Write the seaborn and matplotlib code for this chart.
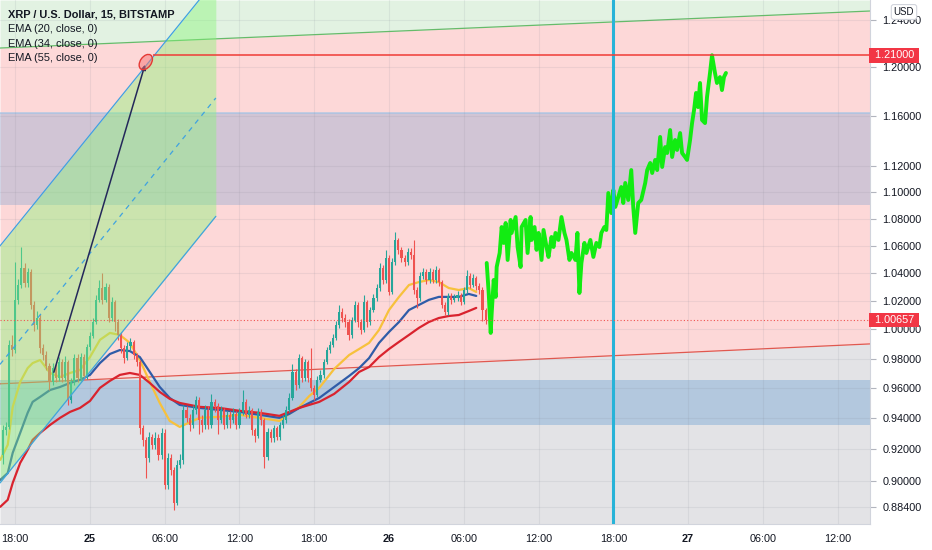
import matplotlib
matplotlib.use('Agg')
import matplotlib.pyplot as plt
import matplotlib.transforms as mtransforms
from matplotlib.patches import Ellipse
from matplotlib.ticker import FixedLocator, NullLocator, NullFormatter
import seaborn as sns
import numpy as np
import pandas as pd

# 15 minute candles, time in hours counted from the 25th 00:00
first_hour = -7.0
first_open = 0.9165
closes = [
    0.9325, 0.9345, 0.9893, 0.9858, 1.0208, 1.0314, 1.0437, 1.0328, 1.0408, 1.0172,
    1.0031, 1.0080, 0.9872, 0.9824, 0.9749, 0.9642, 0.9735, 0.9669, 0.9776, 0.9669,
    0.9776, 0.9522, 0.9642, 0.9803, 0.9669, 0.9810, 0.9682, 0.9879, 0.9955, 1.0052,
    1.0208, 1.0292, 1.0208, 1.0299, 1.0080, 1.0194, 1.0052, 0.9962, 0.9872, 0.9803,
    0.9886, 0.9914, 0.9824, 0.9776, 0.9338, 0.9261, 0.9146, 0.9280, 0.9229, 0.9274,
    0.9165, 0.9306, 0.8975, 0.9146, 0.9069, 0.8865, 0.9101, 0.9133, 0.9456, 0.9404,
    0.9358, 0.9456, 0.9522, 0.9391, 0.9358, 0.9456, 0.9358, 0.9509, 0.9482, 0.9391,
    0.9456, 0.9358, 0.9424, 0.9391, 0.9430, 0.9358, 0.9443, 0.9509, 0.9424, 0.9456,
    0.9325, 0.9286, 0.9443, 0.9391, 0.9152, 0.9312, 0.9274, 0.9338, 0.9280, 0.9358,
    0.9391, 0.9456, 0.9535, 0.9709, 0.9622, 0.9803, 0.9669, 0.9776, 0.9669, 0.9602,
    0.9555, 0.9656, 0.9689, 0.9776, 0.9858, 0.9893, 0.9942, 1.0031, 1.0122, 1.0080,
    1.0052, 0.9962, 1.0066, 1.0172, 1.0052, 0.9997, 1.0194, 1.0052, 1.0136, 1.0222,
    1.0292, 1.0437, 1.0350, 1.0510, 1.0264, 1.0480, 1.0642, 1.0569, 1.0510, 1.0480,
    1.0554, 1.0532, 1.0278, 1.0222, 1.0379, 1.0408, 1.0350, 1.0408, 1.0350, 1.0422,
    1.0335, 1.0172, 1.0122, 1.0236, 1.0208, 1.0222, 1.0243, 1.0194, 1.0278, 1.0379,
    1.0314, 1.0364, 1.0306, 1.0278, 1.0136, 1.0066,
]
highs = [
    0.9360, 0.9380, 0.9930, 0.9960, 1.0480, 1.0360, 1.0590, 1.0470, 1.0440, 1.0430,
    1.0200, 1.0130, 1.0110, 0.9900, 0.9850, 0.9770, 0.9770, 0.9760, 0.9810, 0.9800,
    0.9820, 0.9790, 0.9670, 0.9830, 0.9830, 0.9840, 0.9830, 0.9900, 0.9980, 1.0080,
    1.0240, 1.0350, 1.0400, 1.0330, 1.0320, 1.0230, 1.0210, 1.0070, 0.9980, 0.9890,
    0.9910, 0.9940, 0.9930, 0.9840, 0.9790, 0.9360, 0.9280, 0.9310, 0.9300, 0.9310,
    0.9300, 0.9340, 0.9330, 0.9180, 0.9170, 0.9090, 0.9130, 0.9170, 0.9490, 0.9480,
    0.9430, 0.9490, 0.9550, 0.9540, 0.9420, 0.9490, 0.9480, 0.9560, 0.9530, 0.9500,
    0.9480, 0.9470, 0.9450, 0.9450, 0.9470, 0.9450, 0.9470, 0.9590, 0.9530, 0.9480,
    0.9470, 0.9340, 0.9470, 0.9460, 0.9400, 0.9340, 0.9330, 0.9360, 0.9350, 0.9380,
    0.9420, 0.9480, 0.9570, 0.9760, 0.9730, 0.9830, 0.9820, 0.9800, 0.9790, 0.9870,
    0.9620, 0.9680, 0.9720, 0.9800, 0.9880, 0.9920, 0.9970, 1.0060, 1.0170, 1.0150,
    1.0110, 1.0070, 1.0090, 1.0200, 1.0190, 1.0070, 1.0240, 1.0210, 1.0160, 1.0250,
    1.0320, 1.0470, 1.0460, 1.0570, 1.0530, 1.0510, 1.0700, 1.0660, 1.0590, 1.0530,
    1.0580, 1.0580, 1.0640, 1.0300, 1.0410, 1.0440, 1.0430, 1.0440, 1.0430, 1.0450,
    1.0440, 1.0350, 1.0190, 1.0260, 1.0260, 1.0250, 1.0270, 1.0260, 1.0300, 1.0420,
    1.0400, 1.0390, 1.0380, 1.0330, 1.0300, 1.0150,
]
lows = [
    0.9110, 0.9290, 0.9330, 0.9820, 0.9840, 1.0180, 1.0290, 1.0300, 1.0300, 1.0140,
    0.9990, 1.0000, 0.9840, 0.9790, 0.9720, 0.9590, 0.9620, 0.9640, 0.9650, 0.9640,
    0.9650, 0.9490, 0.9500, 0.9620, 0.9640, 0.9650, 0.9660, 0.9660, 0.9860, 0.9940,
    1.0040, 1.0190, 1.0180, 1.0190, 1.0050, 1.0060, 0.9990, 0.9930, 0.9840, 0.9770,
    0.9790, 0.9860, 0.9800, 0.9750, 0.9300, 0.9220, 0.9020, 0.9120, 0.9200, 0.9200,
    0.9130, 0.9140, 0.8950, 0.8950, 0.9040, 0.8822, 0.8850, 0.9080, 0.9110, 0.9380,
    0.9320, 0.9340, 0.9430, 0.9300, 0.9310, 0.9330, 0.9330, 0.9340, 0.9440, 0.9300,
    0.9370, 0.9330, 0.9340, 0.9340, 0.9370, 0.9330, 0.9340, 0.9420, 0.9400, 0.9400,
    0.9290, 0.9250, 0.9270, 0.9360, 0.9080, 0.9130, 0.9250, 0.9250, 0.9260, 0.9260,
    0.9340, 0.9370, 0.9440, 0.9520, 0.9590, 0.9600, 0.9640, 0.9650, 0.9640, 0.9580,
    0.9520, 0.9540, 0.9640, 0.9670, 0.9760, 0.9840, 0.9880, 0.9930, 1.0010, 1.0050,
    1.0020, 0.9930, 0.9940, 1.0050, 1.0020, 0.9970, 0.9980, 1.0020, 1.0030, 1.0120,
    1.0200, 1.0270, 1.0320, 1.0330, 1.0240, 1.0250, 1.0460, 1.0540, 1.0480, 1.0450,
    1.0460, 1.0500, 1.0250, 1.0150, 1.0200, 1.0360, 1.0320, 1.0330, 1.0330, 1.0330,
    1.0310, 1.0150, 1.0100, 1.0100, 1.0180, 1.0190, 1.0200, 1.0170, 1.0180, 1.0260,
    1.0290, 1.0300, 1.0280, 1.0250, 1.0060, 1.0040,
]

# EMA lines
ema_hours = [-7.2, -6.6, -6.2, -5.6, -5.0, -4.6, -4.0, -3.2, -2.4, -1.6,
             -0.8, 0.0, 0.8, 1.6, 2.4, 3.2, 4.0, 4.8, 5.6, 6.4,
             7.2, 8.8, 10.4, 12.0, 13.6, 15.2, 16.0, 16.8, 17.6, 18.4,
             19.6, 20.8, 21.6, 22.4, 23.2, 24.0, 24.8, 25.6, 26.4, 27.2,
             28.0, 28.8, 29.6, 30.4, 31.0]
ema20 = [0.9133, 0.9229, 0.9476, 0.9642, 0.9735, 0.9769, 0.9790, 0.9702, 0.9675, 0.9702,
         0.9722, 0.9810, 0.9928, 0.9976, 0.9962, 0.9907, 0.9790, 0.9642, 0.9502, 0.9384,
         0.9345, 0.9404, 0.9411, 0.9424, 0.9404, 0.9384, 0.9430, 0.9476, 0.9548, 0.9602,
         0.9729, 0.9824, 0.9865, 0.9907, 0.9997, 1.0136, 1.0229, 1.0314, 1.0335, 1.0350,
         1.0335, 1.0292, 1.0278, 1.0292, 1.0264]
ema34 = [0.9007, 0.9050, 0.9178, 0.9306, 0.9437, 0.9509, 0.9542, 0.9588, 0.9608, 0.9635,
         0.9656, 0.9689, 0.9769, 0.9831, 0.9858, 0.9851, 0.9810, 0.9709, 0.9608, 0.9535,
         0.9489, 0.9469, 0.9456, 0.9443, 0.9424, 0.9404, 0.9430, 0.9469, 0.9502, 0.9535,
         0.9608, 0.9682, 0.9735, 0.9803, 0.9907, 0.9983, 1.0052, 1.0136, 1.0172, 1.0208,
         1.0229, 1.0229, 1.0229, 1.0250, 1.0236]
ema55 = [0.8840, 0.8883, 0.8988, 0.9114, 0.9197, 0.9261, 0.9306, 0.9358, 0.9404, 0.9443,
         0.9469, 0.9515, 0.9602, 0.9649, 0.9689, 0.9702, 0.9689, 0.9635, 0.9575, 0.9529,
         0.9502, 0.9476, 0.9469, 0.9450, 0.9437, 0.9417, 0.9443, 0.9469, 0.9489, 0.9509,
         0.9562, 0.9642, 0.9709, 0.9742, 0.9810, 0.9865, 0.9914, 0.9962, 1.0011, 1.0052,
         1.0080, 1.0094, 1.0101, 1.0129, 1.0151]

# projected path (bright green)
proj_hours = [31.84, 32.0, 32.16, 32.24, 32.4, 32.56, 32.64, 32.88, 33.04, 33.2,
              33.36, 33.52, 33.76, 33.84, 34.16, 34.32, 34.56, 34.64, 34.96, 35.12,
              35.36, 35.44, 35.68, 35.84, 36.0, 36.24, 36.4, 36.64, 36.8, 37.04,
              37.2, 37.36, 37.6, 37.84, 38.08, 38.24, 38.48, 38.64, 38.96, 39.12,
              39.28, 39.44, 39.68, 39.84, 40.16, 40.4, 40.64, 40.88, 41.04, 41.28,
              41.44, 41.6, 41.84, 42.0, 42.16, 42.4, 42.64, 42.8, 42.96, 43.2,
              43.44, 43.6, 43.76, 44.0, 44.24, 44.56, 44.72, 44.96, 45.12, 45.36,
              45.52, 45.76, 45.92, 46.16, 46.32, 46.56, 46.72, 46.96, 47.12, 47.36,
              47.52, 47.76, 47.92, 48.16, 48.32, 48.48, 48.64, 48.8, 48.96, 49.12,
              49.36, 49.52, 49.76, 49.92, 50.16, 50.32, 50.56, 50.72, 50.88, 51.04]
proj_price = [1.0473, 1.0257, 0.9976, 1.0115, 1.0350, 1.0229, 1.0444, 1.0546, 1.0738, 1.0620,
              1.0768, 1.0495, 1.0791, 1.0694, 1.0813, 1.0590, 1.0444, 1.0738, 1.0791, 1.0546,
              1.0813, 1.0642, 1.0738, 1.0569, 1.0694, 1.0495, 1.0716, 1.0590, 1.0517, 1.0664,
              1.0590, 1.0694, 1.0642, 1.0813, 1.0694, 1.0642, 1.0495, 1.0546, 1.0495, 1.0694,
              1.0257, 1.0473, 1.0620, 1.0546, 1.0642, 1.0517, 1.0620, 1.0590, 1.0694, 1.0738,
              1.0716, 1.0995, 1.0843, 1.1018, 1.0889, 1.0965, 1.1041, 1.0919, 1.1072, 1.0942,
              1.1172, 1.0889, 1.0694, 1.0919, 1.0942, 1.1072, 1.1172, 1.1227, 1.1149, 1.1251,
              1.1172, 1.1432, 1.1196, 1.1352, 1.1305, 1.1487, 1.1274, 1.1408, 1.1329, 1.1463,
              1.1305, 1.1274, 1.1251, 1.1408, 1.1543, 1.1648, 1.1787, 1.1672, 1.1869, 1.1568,
              1.1543, 1.1754, 1.1952, 1.2100, 1.1952, 1.1869, 1.1918, 1.1811, 1.1918, 1.1952]

x_ticks = [-6, 0, 6, 12, 18, 24, 30, 36, 42, 48, 54, 60]
x_labels = ['18:00', '25', '06:00', '12:00', '18:00', '26', '06:00', '12:00', '18:00', '27', '06:00', '12:00']
y_ticks = [1.24, 1.20, 1.16, 1.12, 1.10, 1.08, 1.06, 1.04, 1.02, 1.00, 0.98, 0.96, 0.94, 0.92, 0.90, 0.884]

# drawings on the chart
x_min, x_max = -7.22, 62.6
y_min, y_max = 0.8735, 1.2574
top_line = [1.2161, 1.2478]        # upper sloped boundary (green)
bottom_line = [0.9629, 0.9900]     # lower sloped boundary (red)
blue_zone = (0.9358, 0.9656)
purple_zone = (1.0903, 1.1624)
chan_x = [-7.22, 10.1]
chan_upper = [1.0598, 1.2755]
chan_lower = [0.8988, 1.0818]
chan_mid = [0.9760, 1.1746]
arrow_from = (-2.96, 0.9689)
arrow_to = (4.48, 1.2043)
target_price = 1.21
last_price = 1.00657
marker_hour = 42

sns.set_style('white')
plt.rcParams['font.family'] = ['Liberation Sans', 'DejaVu Sans']

fig = plt.figure(figsize=(9.32, 5.5), dpi=100)
ax = fig.add_axes([0, 26 / 550, 870 / 932, 524 / 550])
ax.set_yscale('log')

# background zones
ax.fill_between([x_min, x_max], top_line, [y_max, y_max], color='#e2f2e2', lw=0, zorder=0.1)
ax.fill_between([x_min, x_max], bottom_line, top_line, color='#fdd8d8', lw=0, zorder=0.1)
ax.fill_between([x_min, x_max], [y_min, y_min], bottom_line, color='#e3e3e6', lw=0, zorder=0.1)
ax.plot([x_min, x_max], top_line, color='#66bb6a', lw=0.9, zorder=0.3)
ax.plot([x_min, x_max], bottom_line, color='#e0584f', lw=0.9, zorder=0.3)
ax.axhspan(*blue_zone, color='#4f8fd0', alpha=0.32, lw=0, zorder=0.2)
ax.axhspan(*purple_zone, color='#4f8fd0', alpha=0.25, lw=0, zorder=0.2)
ax.axhspan(purple_zone[1] - 0.0006, purple_zone[1] + 0.0006, color='#9ec3e6', alpha=0.6, lw=0, zorder=0.25)

# EMA lines
ema_df = pd.DataFrame({
    'hour': ema_hours * 3,
    'price': ema20 + ema34 + ema55,
    'ema': ['EMA20'] * len(ema_hours) + ['EMA34'] * len(ema_hours) + ['EMA55'] * len(ema_hours),
})
sns.lineplot(data=ema_df, x='hour', y='price', hue='ema', ax=ax, legend=False,
             palette={'EMA20': '#f7c13c', 'EMA34': '#2f5ca8', 'EMA55': '#d9232e'},
             lw=1.6, zorder=3, estimator=None, sort=False)

# candles
o = np.array([first_open] + closes[:-1])
c = np.array(closes)
hrs = first_hour + 0.25 * np.arange(len(closes))
cols = np.where(c >= o, '#26a69a', '#ef5350')
ax.vlines(hrs, lows, highs, colors=cols, lw=0.8, zorder=4)
body = np.maximum(np.abs(c - o), 0.0008)
ax.bar(hrs, body, bottom=np.minimum(o, c), width=0.17, color=cols, lw=0, zorder=4.1)

# projected path
sns.lineplot(x=proj_hours, y=proj_price, ax=ax, color='#12ec12', lw=2.8,
             estimator=None, sort=False, zorder=5)

# vertical marker
ax.axvline(marker_hour, color='#27b3d8', lw=2.2, zorder=5.5)

# rising channel
ax.fill_between(chan_x, chan_lower, chan_upper, color='#86f676', alpha=0.42, lw=0, zorder=6)
ax.plot(chan_x, chan_upper, color='#3fa2e0', lw=0.9, zorder=6.5)
ax.plot(chan_x, chan_lower, color='#3fa2e0', lw=0.9, zorder=6.5)
ax.plot(chan_x, chan_mid, color='#3fa2e0', lw=0.9, ls=(0, (4, 4)), zorder=6.5)

# arrow to target and target line
ax.annotate('', xy=arrow_to, xytext=arrow_from,
            arrowprops=dict(arrowstyle='-|>', color='#24285a', lw=1.1, mutation_scale=7), zorder=7)
ell_tr = fig.dpi_scale_trans + mtransforms.ScaledTranslation(arrow_to[0], arrow_to[1], ax.transData)
ax.add_patch(Ellipse((0, 0), width=0.17, height=0.11, angle=55, transform=ell_tr,
                     fc=(0.97, 0.45, 0.45, 0.5), ec='#e53935', lw=1.0, zorder=7.5))
ax.hlines(target_price, arrow_to[0] + 0.6, x_max, color='#ef3b36', lw=1.1, zorder=6.8)
ax.axhline(last_price, color='#ef5350', lw=0.8, ls=(0, (1, 2)), zorder=6.8)

# axes styling
ax.set_xlim(x_min, x_max)
ax.set_ylim(y_min, y_max)
ax.set_xlabel('')
ax.set_ylabel('')
ax.xaxis.set_major_locator(FixedLocator(x_ticks))
ax.set_xticklabels(x_labels)
for lab in ax.get_xticklabels():
    if lab.get_text() in ('25', '26', '27'):
        lab.set_fontweight('bold')
ax.yaxis.tick_right()
ax.yaxis.set_major_locator(FixedLocator(y_ticks))
ax.yaxis.set_minor_locator(NullLocator())
ax.yaxis.set_minor_formatter(NullFormatter())
ax.set_yticklabels(['%.5f' % v for v in y_ticks])
ax.tick_params(axis='both', labelsize=7.8, colors='#b2b5be', labelcolor='#131722', length=4, width=0.8)
ax.tick_params(axis='x', pad=3)
ax.tick_params(axis='y', pad=5)
ax.grid(True, color='#7f8391', alpha=0.12, lw=0.8)
ax.set_axisbelow(True)
for side in ('top', 'left'):
    ax.spines[side].set_visible(False)
for side in ('right', 'bottom'):
    ax.spines[side].set_color('#d1d4dc')
    ax.spines[side].set_linewidth(0.8)

# price tags on the scale
tr = mtransforms.blended_transform_factory(ax.transAxes, ax.transData)
for val in (target_price, last_price):
    ax.text(1.002, val, ' %.5f ' % val, transform=tr, ha='left', va='center', fontsize=7.8,
            color='white', zorder=10, clip_on=False,
            bbox=dict(boxstyle='square,pad=0.22', fc='#f23645', ec='none'))

fig.text(904 / 932, 1 - 12 / 550, 'USD', ha='center', va='center', fontsize=7, color='#131722',
         bbox=dict(boxstyle='round,pad=0.25', fc='white', ec='#d1d4dc', lw=0.8))

# legend block
ax.text(0.009, 0.973, 'XRP / U.S. Dollar, 15, BITSTAMP', transform=ax.transAxes, fontsize=7.9,
        fontweight='bold', color='#131722', va='center', zorder=10)
for k, name in enumerate(['EMA (20, close, 0)', 'EMA (34, close, 0)', 'EMA (55, close, 0)']):
    ax.text(0.009, 0.944 - 0.0272 * k, name, transform=ax.transAxes, fontsize=7.9,
            color='#131722', va='center', zorder=10)

fig.savefig('out.png', dpi=100, facecolor='white')
